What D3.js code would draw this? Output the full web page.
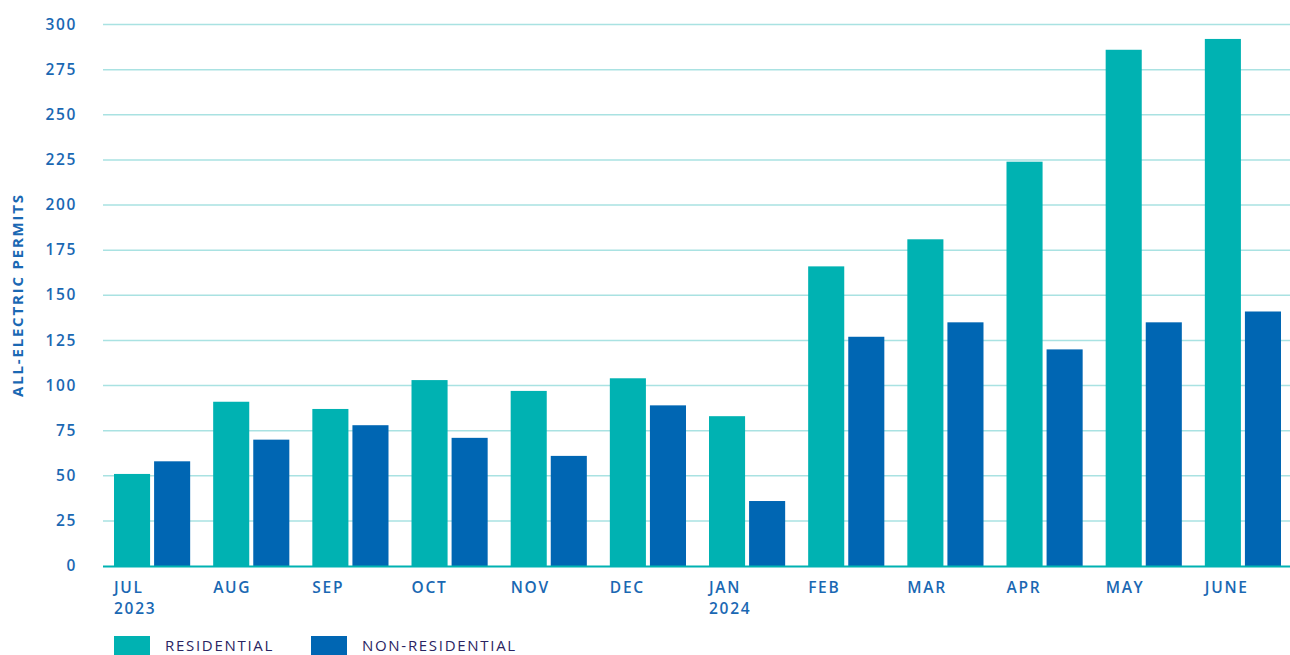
<!DOCTYPE html>
<html><head><meta charset="utf-8">
<script src="https://cdn.jsdelivr.net/npm/d3@7"></script>
<style>
html,body{margin:0;padding:0;background:#fff;}
svg{display:block;}
</style></head>
<body>
<svg id="chart" width="1290" height="655"></svg>
<script>
const months = ["JUL","AUG","SEP","OCT","NOV","DEC","JAN","FEB","MAR","APR","MAY","JUNE"];
const monthSub = ["2023","","","","","","2024","","","","",""];
const residential = [51,91,87,103,97,104,83,166,181,224,286,292];
const nonResidential = [58,70,78,71,61,89,36,127,135,120,135,141];
const yTicks = [0,25,50,75,100,125,150,175,200,225,250,275,300];
const seriesNames = ["RESIDENTIAL","NON-RESIDENTIAL"];
const colors = ["#00b2b2","#0066b3"];

const svg = d3.select("#chart");
const font = "'Open Sans', Lato, sans-serif";
const plotLeft = 103, plotRight = 1290, plotTop = 24.5, plotBottom = 566;

const y = d3.scaleLinear().domain([0,300]).range([plotBottom, plotTop]);
const x0 = d3.scaleBand().domain(months).range([plotLeft, 1292]).paddingInner(0.232).paddingOuter(0.111);
const x1 = d3.scaleBand().domain(seriesNames).range([0, x0.bandwidth()]).paddingInner(0.1).paddingOuter(0);
const color = d3.scaleOrdinal().domain(seriesNames).range(colors);

// gridlines
svg.append("g").selectAll("line").data(yTicks.filter(d=>d>0)).join("line")
  .attr("x1", plotLeft).attr("x2", plotRight)
  .attr("y1", d=>y(d)).attr("y2", d=>y(d))
  .attr("stroke", "#a9e2e2").attr("stroke-width", 1.5);

// y-axis labels
const yAxis = d3.axisLeft(y).tickValues(yTicks).tickSize(0).tickPadding(0);
const gy = svg.append("g").attr("transform", "translate(77,0)").call(yAxis);
gy.select(".domain").remove();
gy.selectAll("text").attr("fill","#1a68b3").style("font-family",font).style("font-size","15.5px")
  .style("font-weight","600").style("letter-spacing","1.6px").attr("dy","0.3em");

// bars
const data = months.map((m,i)=>({month:m, values:[
  {key:seriesNames[0], value:residential[i]},
  {key:seriesNames[1], value:nonResidential[i]}]}));

svg.append("g").selectAll("g").data(data).join("g")
  .attr("transform", d=>`translate(${x0(d.month)},0)`)
  .selectAll("rect").data(d=>d.values).join("rect")
  .attr("x", d=>x1(d.key)).attr("width", x1.bandwidth())
  .attr("y", d=>y(d.value)).attr("height", d=>y(0)-y(d.value))
  .attr("fill", d=>color(d.key));

// baseline
svg.append("line").attr("x1", plotLeft).attr("x2", plotRight).attr("y1", y(0)+0.5).attr("y2", y(0)+0.5)
  .attr("stroke", "#00b2b2").attr("stroke-width", 2);

// x labels
const xl = svg.append("g").selectAll("text").data(months).join("text")
  .attr("x", d=>x0(d)).attr("y", 593)
  .attr("fill","#1a68b3").style("font-family",font).style("font-size","15.5px").style("font-weight","600")
  .style("letter-spacing","1.7px");
xl.append("tspan").text(d=>d);
xl.append("tspan").attr("x", d=>x0(d)).attr("dy", 21).text((d,i)=>monthSub[i]);

// y title
svg.append("text").attr("transform","translate(23,295) rotate(-90)")
  .attr("text-anchor","middle").attr("fill","#1a68b3")
  .style("font-family",font).style("font-size","15px").style("font-weight","700")
  .style("letter-spacing","1.8px")
  .text("ALL-ELECTRIC PERMITS");

// legend
const legendX = [114, 311];
const lg = svg.append("g").selectAll("g").data(seriesNames).join("g")
  .attr("transform",(d,i)=>`translate(${legendX[i]},636)`);
lg.append("rect").attr("width",36).attr("height",20).attr("fill",d=>color(d));
lg.append("text").attr("x",51).attr("y",15).text(d=>d)
  .attr("fill","#2a2462").style("font-family",font).style("font-size","15px").style("font-weight","500")
  .style("letter-spacing","1.7px");
</script>
</body></html>
